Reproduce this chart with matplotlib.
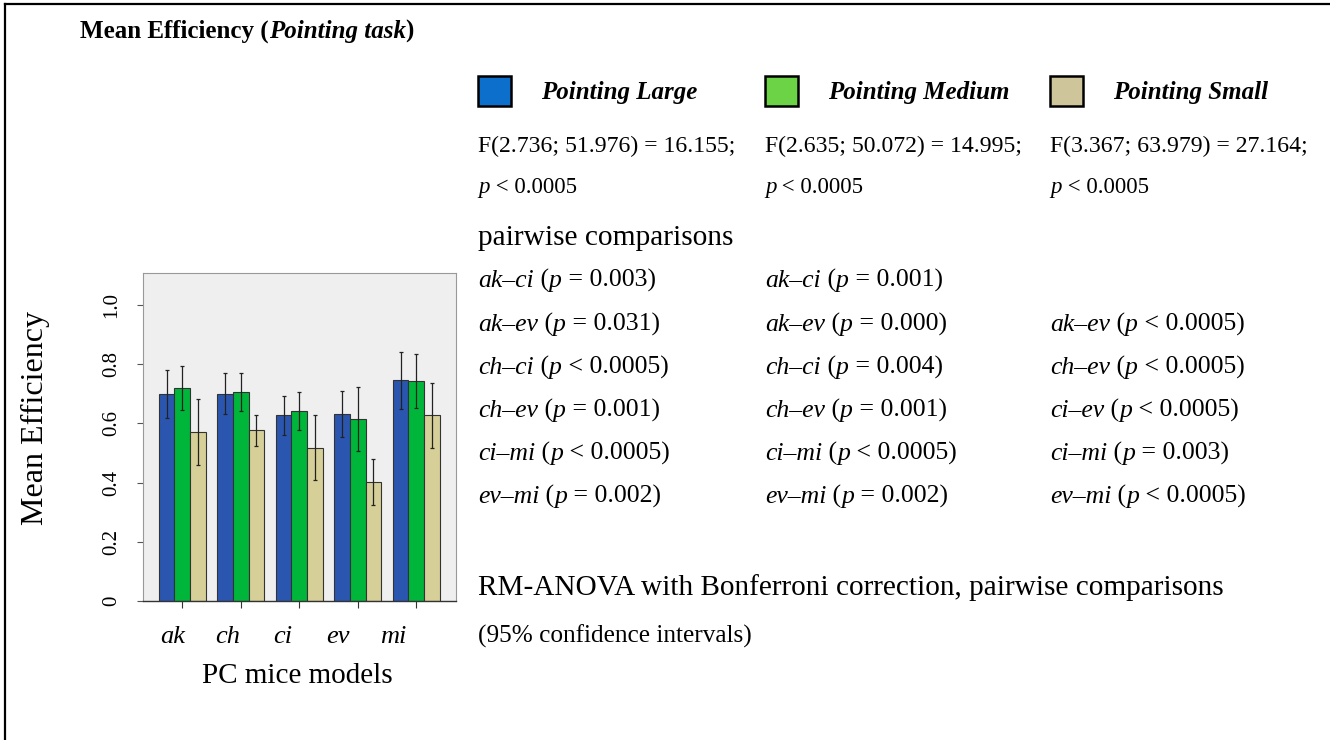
import numpy as np
import matplotlib
matplotlib.use("Agg")
import matplotlib.pyplot as plt
from matplotlib.patches import Rectangle
from matplotlib.lines import Line2D

plt.rcParams['font.family'] = ['Liberation Serif', 'DejaVu Serif']

# data
models = ['ak', 'ch', 'ci', 'ev', 'mi']
series = ['Pointing Large', 'Pointing Medium', 'Pointing Small']
large = [0.700, 0.700, 0.628, 0.632, 0.747]
large_lo = [0.618, 0.632, 0.561, 0.554, 0.649]
large_hi = [0.780, 0.770, 0.693, 0.710, 0.841]
medium = [0.720, 0.706, 0.642, 0.615, 0.743]
medium_lo = [0.645, 0.642, 0.578, 0.507, 0.652]
medium_hi = [0.794, 0.770, 0.706, 0.723, 0.834]
small = [0.571, 0.576, 0.517, 0.402, 0.628]
small_lo = [0.460, 0.524, 0.409, 0.324, 0.517]
small_hi = [0.682, 0.628, 0.628, 0.480, 0.736]
yticks = [0, 0.2, 0.4, 0.6, 0.8, 1.0]
ytick_labels = ['0', '0.2', '0.4', '0.6', '0.8', '1.0']

f_stats = ['F(2.736; 51.976) = 16.155;', 'F(2.635; 50.072) = 14.995;', 'F(3.367; 63.979) = 27.164;']
f_p = ['0.0005', '0.0005', '0.0005']
pairs = [
    [('ak–ci', '=', '0.003'), ('ak–ev', '=', '0.031'), ('ch–ci', '<', '0.0005'),
     ('ch–ev', '=', '0.001'), ('ci–mi', '<', '0.0005'), ('ev–mi', '=', '0.002')],
    [('ak–ci', '=', '0.001'), ('ak–ev', '=', '0.000'), ('ch–ci', '=', '0.004'),
     ('ch–ev', '=', '0.001'), ('ci–mi', '<', '0.0005'), ('ev–mi', '=', '0.002')],
    [None, ('ak–ev', '<', '0.0005'), ('ch–ev', '<', '0.0005'),
     ('ci–ev', '<', '0.0005'), ('ci–mi', '=', '0.003'), ('ev–mi', '<', '0.0005')],
]

bar_colors = ['#2b56b0', '#00b63a', '#d6cf97']
legend_colors = ['#0b6fcb', '#6cd246', '#cfc59b']

W, H = 1330, 740
fig = plt.figure(figsize=(W / 100, H / 100), dpi=100)
renderer = fig.canvas.get_renderer()


def px(x, y):
    return x / W, 1 - y / H


def rich(x, y, parts, size):
    # parts: list of (text, style, weight); placed one after another
    fx, fy = px(x, y)
    for s, st, wt in parts:
        fig.text(fx, fy, s, fontsize=size, style=st, weight=wt, va='baseline', ha='left')
        a = fig.text(0, 0, s + '|', fontsize=size, style=st, weight=wt)
        b = fig.text(0, 0, '|', fontsize=size, style=st, weight=wt)
        w = a.get_window_extent(renderer).width - b.get_window_extent(renderer).width
        a.remove()
        b.remove()
        fx += w / W


# bar chart
ax = fig.add_axes([143 / W, 1 - 601 / H, 313 / W, 328 / H])
ax.set_facecolor('#efefef')
x = np.arange(len(models))
bw = 0.268
vals = [large, medium, small]
los = [large_lo, medium_lo, small_lo]
his = [large_hi, medium_hi, small_hi]
for i in range(3):
    v = np.array(vals[i])
    err = [v - np.array(los[i]), np.array(his[i]) - v]
    ax.bar(x + (i - 1) * bw, v, bw, color=bar_colors[i], edgecolor='#333333', linewidth=0.8,
           yerr=err, error_kw=dict(ecolor='#222222', elinewidth=0.9, capsize=1.5, capthick=0.9))
ax.set_xlim(-0.67, 4.68)
ax.set_ylim(0, 1.108)
ax.set_yticks(yticks)
ax.set_yticklabels(ytick_labels, rotation=90, va='center', fontsize=15)
ax.set_xticks(x)
ax.set_xticklabels([])
ax.tick_params(axis='y', length=4, width=0.8, color='#555555', pad=12)
ax.tick_params(axis='x', length=5, width=0.8, color='#333333')
for s in ['left', 'top', 'right']:
    ax.spines[s].set_color('#999999')
    ax.spines[s].set_linewidth(0.8)
ax.spines['bottom'].set_color('#333333')
ax.spines['bottom'].set_linewidth(1.0)

# category labels sit a little left of their ticks in the reference
for i, m in enumerate(models):
    ax.text(-0.17 + 0.945 * i, -0.11, m, transform=ax.get_xaxis_transform(),
            fontsize=19, style='italic', ha='center', va='center')

fig.text(*px(35, 418), 'Mean Efficiency', rotation=90, fontsize=23, ha='center', va='center')
fig.text(*px(297, 676), 'PC mice models', fontsize=21, ha='center', va='center')

# title
rich(80, 38, [('Mean Efficiency (', 'normal', 'bold'), ('Pointing task', 'italic', 'bold'),
              (')', 'normal', 'bold')], 18)

# legend + stats
col_x = [478, 765, 1050]
for i in range(3):
    r = Rectangle(px(col_x[i], 106), 33 / W, 30 / H, transform=fig.transFigure,
                  facecolor=legend_colors[i], edgecolor='black', linewidth=1.8)
    fig.patches.append(r)
    fig.text(*px(col_x[i] + 63, 99), series[i], fontsize=18, style='italic', weight='bold',
             ha='left', va='baseline')
    fig.text(*px(col_x[i], 152), f_stats[i], fontsize=17.1, ha='left', va='baseline')
    rich(col_x[i], 193, [('p', 'italic', 'normal'), (' < ' + f_p[i], 'normal', 'normal')], 16.5)

fig.text(*px(478, 245), 'pairwise comparisons', fontsize=21.2, ha='left', va='baseline')
row_y = [287, 331, 374, 417, 460, 503]
for c in range(3):
    for r, item in enumerate(pairs[c]):
        if item is None:
            continue
        pr, op, val = item
        rich(col_x[c], row_y[r], [(pr, 'italic', 'normal'), (' (', 'normal', 'normal'),
                                  ('p', 'italic', 'normal'), (' %s %s)' % (op, val), 'normal', 'normal')], 18.5)

fig.text(*px(478, 595), 'RM-ANOVA with Bonferroni correction, pairwise comparisons', fontsize=21.1,
         ha='left', va='baseline')
fig.text(*px(478, 643), '(95% confidence intervals)', fontsize=18.2, ha='left', va='baseline')

# frame lines (top and left)
fig.add_artist(Line2D([5 / W, 5 / W], [0, 1 - 4 / H], transform=fig.transFigure, color='black', lw=1.6))
fig.add_artist(Line2D([5 / W, 1], [1 - 4 / H, 1 - 4 / H], transform=fig.transFigure, color='black', lw=1.6))

fig.savefig('out.png', dpi=100)
